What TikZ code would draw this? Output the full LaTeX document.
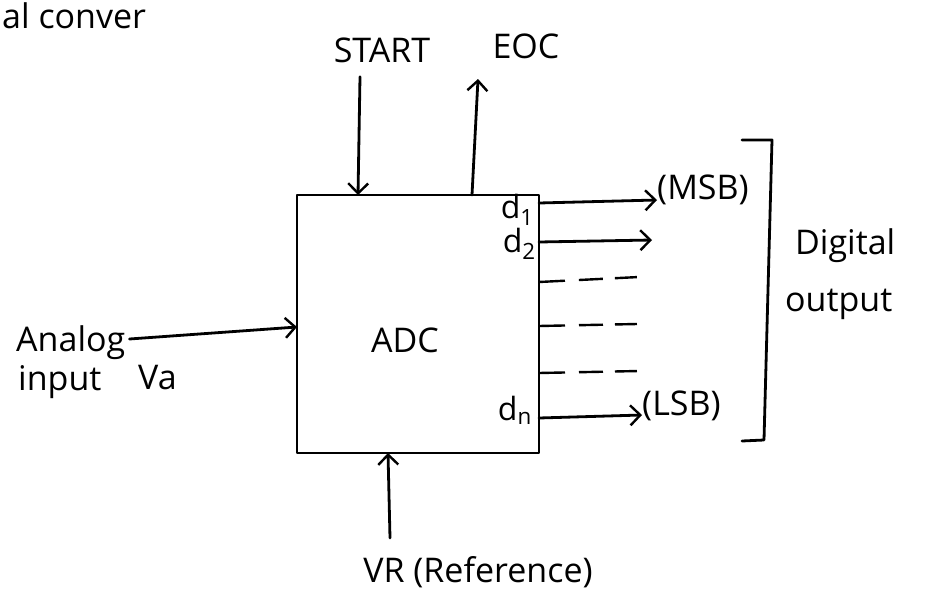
\documentclass[tikz,border=0pt]{standalone}
\usepackage{fontspec}
\setmainfont{Open Sans}
\usetikzlibrary{arrows.meta}
\begin{document}
\begin{tikzpicture}[x=1pt,y=-1pt,
  ln/.style={line width=2.8pt, line cap=round, line join=round},
  arr/.style={ln, -{Straight Barb[length=10pt,width=20pt,line width=2.4pt]}},
  lbl/.style={inner sep=0pt, font=\fontsize{34}{36}\selectfont},
  dlbl/.style={lbl, anchor=east, font=\fontsize{32}{34}\selectfont},
  dsh/.style={line width=2.4pt, dash pattern=on 26pt off 14pt on 24pt off 12pt on 22pt off 100pt}]
\useasboundingbox (0,0) rectangle (929,597);
% heading at top edge
\node[lbl, anchor=base west] (head) at (2,28) {al conver};
% ADC box
\node[ln, draw, minimum width=242pt, minimum height=258pt, inner sep=0pt] (adc) at (418,324) {};
\node[lbl] (adctxt) at (405,340) {ADC};
% top labels
\node[lbl] (start) at (382,50) {START};
\node[lbl] (eoc) at (526,46) {EOC};
\coordinate (sIn) at (358,195);
\coordinate (eOut) at (472,195);
\draw[arr] (start.south -| sIn) ++(2,14) -- (sIn);
\draw[arr] (eOut) -- ++(6,-116);
% analog input
\node[lbl, anchor=west] (analog) at (16,343) {Analog};
\node[lbl, anchor=west] (input) at (18,382) {input};
\node[lbl, anchor=west] (va) at (138,378) {Va};
\coordinate (aIn) at (297,327);
\draw[arr] (analog.east) ++(4,-4) -- (aIn);
% reference
\node[lbl] (vr) at (478,572) {VR (Reference)};
\coordinate (vrIn) at (388,453);
\draw[arr] (390,538) -- (vrIn);
% digital outputs
\node[dlbl] (d1) at (534,210) {d\textsubscript{1}};
\node[dlbl] (d2) at (536,244) {d\textsubscript{2}};
\node[dlbl] (dn) at (532,410) {d\textsubscript{n}};
\coordinate (o1) at (539,203);
\coordinate (o2) at (539,242);
\coordinate (o3) at (539,282);
\coordinate (o4) at (539,326);
\coordinate (o5) at (539,373);
\coordinate (on) at (539,418);
\node[lbl, anchor=west] (msb) at (657,190) {(MSB)};
\node[lbl, anchor=west] (lsb) at (642,406) {(LSB)};
\coordinate (e2) at (652,240);
\draw[arr] (o1) -- (msb.west |- 0,200);
\draw[arr] (o2) -- (e2);
\draw[dsh] (o3) -- ++(100,-5);
\draw[dsh] (o4) -- ++(98,-2);
\draw[dsh] (o5) -- ++(100,-2);
\draw[arr] (on) -- (lsb.west |- 0,415);
% bracket
\draw[ln] (742,140) -- (772,140) -- (764,440) -- (742,441);
\node[lbl, anchor=west] (dig) at (795,246) {Digital};
\node[lbl, anchor=west] (out) at (785,304) {output};
\end{tikzpicture}
\end{document}
